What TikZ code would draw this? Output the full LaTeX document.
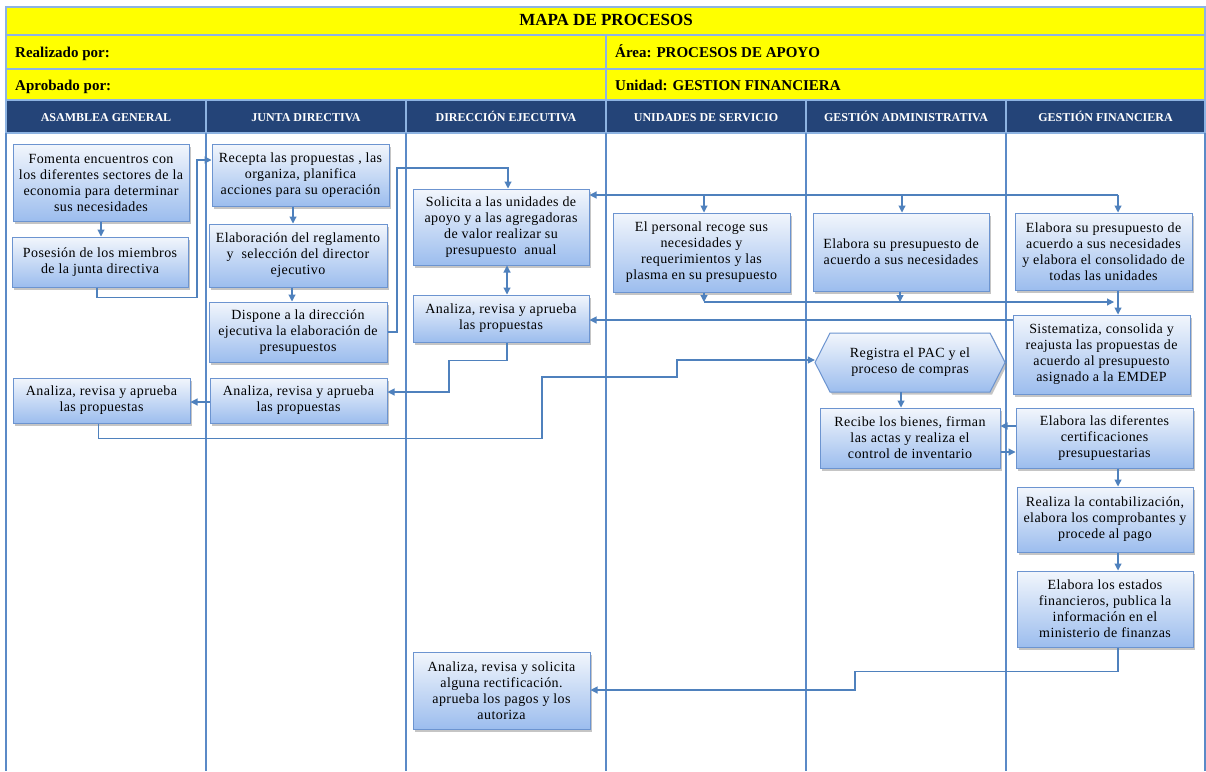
\documentclass[tikz,border=0pt]{standalone}
\usepackage{fontspec}
\setmainfont{Liberation Serif}
\newfontfamily\boxfont[LetterSpace=3]{Liberation Serif}
\usetikzlibrary{arrows.meta,shadows}
\definecolor{hdrblue}{RGB}{36,68,120}
\definecolor{gridline}{RGB}{141,179,226}
\definecolor{lanec}{RGB}{91,138,199}
\definecolor{arrowc}{RGB}{79,129,189}
\definecolor{boxtop}{RGB}{242,246,252}
\definecolor{boxbot}{RGB}{156,189,238}
\definecolor{boxline}{RGB}{108,148,208}
\definecolor{yel}{RGB}{255,255,0}
\begin{document}
\begin{tikzpicture}[x=1pt,y=-1pt,
 procbox/.style={draw=boxline, line width=1pt, top color=boxtop, bottom color=boxbot,
   drop shadow={shadow xshift=2pt,shadow yshift=-2.5pt,fill=black!45,opacity=.5},
   align=center, inner sep=1pt, font=\boxfont\fontsize{14}{16}\selectfont},
 arr/.style={draw=arrowc, line width=1.1pt, -{Triangle[length=7pt,width=7pt]}},
 dblarr/.style={draw=arrowc, line width=1.1pt, {Triangle[length=7pt,width=7pt]}-{Triangle[length=7pt,width=7pt]}},
 laneline/.style={draw=lanec, line width=1.2pt},
 yelcell/.style={fill=yel, draw=gridline, line width=1.2pt},
 bluecell/.style={fill=hdrblue, draw=gridline, line width=1.2pt},
 hdrtxt/.style={text=white, font=\bfseries\fontsize{12}{14}\selectfont, inner sep=0pt, anchor=base},
 rowtxt/.style={font=\bfseries\fontsize{15}{17}\selectfont, anchor=base west, inner sep=0pt},
]
\useasboundingbox (0,0) rectangle (1206,771);
\fill[white] (0,0) rectangle (1206,771);

% header rows
\draw[yelcell] (6,7) rectangle (1205,35);
\draw[yelcell] (6,35) rectangle (606,69);
\draw[yelcell] (606,35) rectangle (1205,69);
\draw[yelcell] (6,69) rectangle (606,100);
\draw[yelcell] (606,69) rectangle (1205,100);
\foreach \a/\b in {6/206,206/406,406/606,606/806,806/1006,1006/1205}
  \draw[bluecell] (\a,100) rectangle (\b,133);

\node[font=\bfseries\fontsize{17}{19}\selectfont, inner sep=0pt, anchor=base] (title) at (606,25) {MAPA DE PROCESOS};
\node[rowtxt] (realiz) at (15,57) {Realizado por:};
\node[rowtxt] (aprob) at (15,90) {Aprobado por:};
\node[rowtxt] (area) at (615,57) {Área: PROCESOS DE APOYO};
\node[rowtxt] (unid) at (615,90) {Unidad: GESTION FINANCIERA};

\node[hdrtxt] (hA) at (106,121) {ASAMBLEA GENERAL};
\node[hdrtxt] (hJ) at (306,121) {JUNTA DIRECTIVA};
\node[hdrtxt] (hD) at (506,121) {DIRECCIÓN EJECUTIVA};
\node[hdrtxt] (hU) at (706,121) {UNIDADES DE SERVICIO};
\node[hdrtxt] (hG) at (906,121) {GESTIÓN ADMINISTRATIVA};
\node[hdrtxt] (hF) at (1105.5,121) {GESTIÓN FINANCIERA};

% lanes
\foreach \x in {6,206,406,606,806,1006,1205}
  \draw[laneline] (\x,133) -- (\x,771);

% ASAMBLEA GENERAL
\node[procbox, minimum width=176pt, minimum height=77pt] (A1) at (101,182.5)
  {Fomenta encuentros con\\los diferentes sectores de la\\economia para determinar\\sus necesidades};
\node[procbox, minimum width=176pt, minimum height=50pt] (A2) at (100,262)
  {Posesión de los miembros\\de la junta directiva};
\node[procbox, minimum width=177pt, minimum height=45pt] (A3) at (101.5,400.5)
  {Analiza, revisa y aprueba\\las propuestas};

% JUNTA DIRECTIVA
\node[procbox, minimum width=177pt, minimum height=62pt] (J1) at (300.5,175)
  {Recepta las propuestas , las\\organiza, planifica\\acciones para su operación};
\node[procbox, minimum width=178pt, minimum height=63pt] (J2) at (298,255.5)
  {Elaboración del reglamento\\y \ selección del director\\ejecutivo};
\node[procbox, minimum width=178pt, minimum height=60pt] (J3) at (298,332)
  {Dispone a la dirección\\ejecutiva la elaboración de\\presupuestos};
\node[procbox, minimum width=177pt, minimum height=45pt] (J4) at (298.5,400.5)
  {Analiza, revisa y aprueba\\las propuestas};

% DIRECCION EJECUTIVA
\node[procbox, minimum width=176pt, minimum height=76pt] (D1) at (501,227)
  {Solicita a las unidades de\\apoyo y a las agregadoras\\de valor realizar su\\presupuesto \ anual};
\node[procbox, minimum width=176pt, minimum height=47pt] (D2) at (501,318.5)
  {Analiza, revisa y aprueba\\las propuestas};
\node[procbox, minimum width=177pt, minimum height=77pt] (D3) at (501.5,690.5)
  {Analiza, revisa y solicita\\alguna rectificación.\\aprueba los pagos y los\\autoriza};

% UNIDADES DE SERVICIO
\node[procbox, minimum width=177pt, minimum height=79pt] (U1) at (701.5,252.5)
  {El personal recoge sus\\necesidades y\\requerimientos y las\\plasma en su presupuesto};

% GESTION ADMINISTRATIVA
\node[procbox, minimum width=176pt, minimum height=78pt] (G1) at (901,252)
  {Elabora su presupuesto de\\acuerdo a sus necesidades};
\coordinate (G2c) at (910,362.5);
\path[draw=boxline, line width=1pt, top color=boxtop, bottom color=boxbot,
   drop shadow={shadow xshift=2pt,shadow yshift=-2.5pt,fill=black!45,opacity=.5}]
  ([xshift=-95pt]G2c) -- ([xshift=-80pt,yshift=29.5pt]G2c) -- ([xshift=80pt,yshift=29.5pt]G2c)
  -- ([xshift=95pt]G2c) -- ([xshift=80pt,yshift=-29.5pt]G2c) -- ([xshift=-80pt,yshift=-29.5pt]G2c) -- cycle;
\node[align=center, inner sep=1pt, font=\boxfont\fontsize{14}{16}\selectfont,
   minimum width=190pt, minimum height=59pt] (G2) at (G2c)
  {Registra el PAC y el\\proceso de compras};
\node[procbox, minimum width=180pt, minimum height=60pt] (G3) at (910,438)
  {Recibe los bienes, firman\\las actas y realiza el\\control de inventario};

% GESTION FINANCIERA
\node[procbox, minimum width=177pt, minimum height=77pt] (F1) at (1103.5,251.5)
  {Elabora su presupuesto de\\acuerdo a sus necesidades\\y elabora el consolidado de\\todas las unidades};
\node[procbox, minimum width=177pt, minimum height=79pt] (F2) at (1101.5,354.5)
  {Sistematiza, consolida y\\reajusta las propuestas de\\acuerdo al presupuesto\\asignado a la EMDEP};
\node[procbox, minimum width=177pt, minimum height=60pt] (F3) at (1104.5,438)
  {Elabora las diferentes\\certificaciones\\presupuestarias};
\node[procbox, minimum width=176pt, minimum height=65pt] (F4) at (1105,519.5)
  {Realiza la contabilización,\\elabora los comprobantes y\\procede al pago};
\node[procbox, minimum width=176pt, minimum height=76pt] (F5) at (1105,609)
  {Elabora los estados\\financieros, publica la\\información en el\\ministerio de finanzas};

% helper coordinates
\coordinate (kA) at (197,160);
\coordinate (kB) at (397,168);
\coordinate (kC) at (1118,195);
\coordinate (kU) at (704,195);
\coordinate (kG) at (902,195);
\coordinate (kD) at (704,302);
\coordinate (kE) at (900,302);
\coordinate (kH) at (1114,302);
\coordinate (kI) at (0,320);
\coordinate (kJ) at (449,392);
\coordinate (kK) at (0,402);
\coordinate (kL) at (542,377);
\coordinate (kM) at (677,360);
\coordinate (kN) at (0,426);
\coordinate (kP) at (0,452);
\coordinate (kO) at (855,690);

% connectors
\draw[arr] (A1.south) -- (A1.south |- A2.north);
\draw[arr] ([xshift=-3pt]A2.south) -- ++(0,10) -| (kA) -- (kA -| J1.west);
\draw[arr] ([xshift=-7.5pt]J1.south) -- ([xshift=-7.5pt]J1.south |- J2.north);
\draw[arr] ([xshift=-6pt]J2.south) -- ([xshift=-6pt]J2.south |- J3.north);
\draw[arr] (J3.east) -| (kB) -| ([xshift=7pt]D1.north);
\draw[dblarr] ([xshift=6pt]D1.south) -- ([xshift=6pt]D1.south |- D2.north);
\draw[arr] (kC) -- (kC -| D1.east);
\draw[arr] (kU) -- (kU |- U1.north);
\draw[arr] (kG) -- (kG |- G1.north);
\draw[arr] (kC) -- (kC |- F1.north);
\draw[arr] (kD |- U1.south) -- (kD);
\draw[arr] (kE |- G1.south) -- (kE);
\draw[arr] (kD) -- (kH);
\draw[arr] ([xshift=14.5pt]F1.south) -- ([xshift=14.5pt]F1.south |- F2.north);
\draw[arr] (F2.west |- kI) -- (D2.east |- kI);
\draw[arr] ([xshift=6pt]D2.south) -- ++(0,18) -| (kJ) -- (kJ -| J4.east);
\draw[arr] (J4.west |- kK) -- (A3.east |- kK);
\draw[arr] ([xshift=-3pt]A3.south) -- ++(0,15) -| (kL) -| (kM) -- (kM -| G2.west);
\draw[arr] ([xshift=-9pt]G2.south) -- ([xshift=-9pt]G2.south |- G3.north);
\draw[arr] (F3.west |- kN) -- (G3.east |- kN);
\draw[arr] (G3.east |- kP) -- (F3.west |- kP);
\draw[arr] ([xshift=13.5pt]F3.south) -- ([xshift=13.5pt]F3.south |- F4.north);
\draw[arr] ([xshift=13pt]F4.south) -- ([xshift=13pt]F4.south |- F5.north);
\draw[arr] ([xshift=13pt]F5.south) -- ++(0,24) -| (kO) -- (kO -| D3.east);
\end{tikzpicture}
\end{document}
